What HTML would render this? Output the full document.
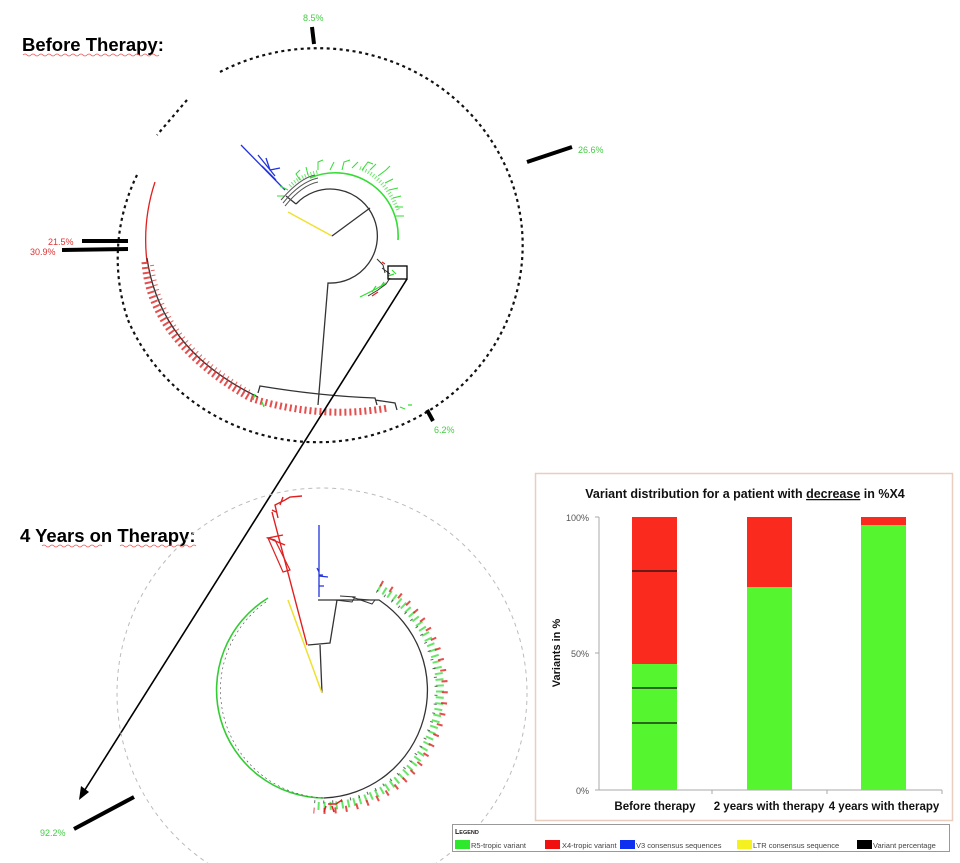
<!DOCTYPE html>
<html><head><meta charset="utf-8"><style>
html,body{margin:0;padding:0;background:#fff;}
svg{display:block;}
text{font-family:"Liberation Sans",Arial,sans-serif;}
</style></head><body>
<svg width="960" height="863" viewBox="0 0 960 863" xmlns="http://www.w3.org/2000/svg">
<text x="22" y="51" font-size="18.5" font-weight="bold" fill="#000">Before Therapy:</text>
<path d="M23 55 q2 -2 4 0 t4 0 t4 0 t4 0 t4 0 t4 0 t4 0 t4 0 t4 0 t4 0 t4 0 t4 0 t4 0 t4 0 t4 0 t4 0 t4 0 t4 0 t4 0 t4 0 t4 0 t4 0 t4 0 t4 0 t4 0 t4 0 t4 0 t4 0 t4 0 t4 0 t4 0 t4 0 t4 0 t4 0" stroke="#e55" stroke-width="0.8" fill="none"/>
<text x="20" y="542" font-size="18.5" font-weight="bold" fill="#000">4 Years on Therapy:</text>
<path d="M42 546 q2 -2 4 0 t4 0 t4 0 t4 0 t4 0 t4 0 t4 0 t4 0 t4 0 t4 0 t4 0 t4 0 t4 0 t4 0 t4 0 M120 546 q2 -2 4 0 t4 0 t4 0 t4 0 t4 0 t4 0 t4 0 t4 0 t4 0 t4 0 t4 0 t4 0 t4 0 t4 0 t4 0 t4 0 t4 0 t4 0 t4 0" stroke="#e55" stroke-width="0.8" fill="none"/>

<g fill="none">
<path d="M220 72 A205 197 0 1 1 128 320" stroke="#111" stroke-width="2.2" stroke-dasharray="3,3.5"/>
<path d="M187 100 L157 135" stroke="#111" stroke-width="2.2" stroke-dasharray="3,3.5"/>
<path d="M137 175 A205 197 0 0 0 128 320" stroke="#111" stroke-width="2.2" stroke-dasharray="3,3.5"/>
<path d="M312 27 L314 44" stroke="#000" stroke-width="4"/>
<path d="M527 162 L572 147" stroke="#000" stroke-width="4"/>
<path d="M82 241 L128 241" stroke="#000" stroke-width="4"/>
<path d="M62 250 L128 249" stroke="#000" stroke-width="4"/>
<path d="M427 410 L433 421" stroke="#000" stroke-width="4"/>
<path d="M288 212 L332 236" stroke="#f0e030" stroke-width="1.5"/>
<path d="M241 145 L285 190 M258 155 L275 176 M266 158 L270 170 L280 168 M262 166 L276 180" stroke="#2233dd" stroke-width="1.3"/>
<path d="M332 236 L370 208" stroke="#333" stroke-width="1.3"/>
<path d="M296 204 A47 47 0 1 1 328 283 L318 405" stroke="#333" stroke-width="1.3"/>
<path d="M296 204 L286 196" stroke="#333" stroke-width="1.3"/>
<path d="M281 200 Q300 178 315 175 M283 203 Q300 182 318 178 M285 206 Q302 185 318 182" stroke="#555" stroke-width="1"/>
<path d="M310 178 A63 63 0 0 1 398 240" stroke="#33dd33" stroke-width="1.6"/>
<path d="M300 180 l-4 -6 l4 -4 M308 175 l-2 -8 M318 170 l0 -8 l5 -2 M330 170 l4 -8 M342 170 l2 -8 l6 -2 M352 168 l6 -6 M362 170 l6 -8 l5 2 M370 170 l6 -6 M378 176 l8 -6 l4 -4 M385 183 l8 -4 M389 190 l9 -2 M393 198 l8 -2 M395 207 l8 0 M396 216 l8 0 M288 190 l-8 -4 M284 196 l-7 0" stroke="#33dd33" stroke-width="1"/>
<path d="M290 186 Q300 176 318 172" stroke="#33dd33" stroke-width="4" stroke-dasharray="1,2" opacity=".7"/>
<path d="M360 168 Q385 178 398 210" stroke="#33dd33" stroke-width="4" stroke-dasharray="1,2" opacity=".7"/>
<path d="M377 259 l6 6 l2 8 M382 268 l8 6 M390 278 l-4 6 l-8 6 l-10 6" stroke="#333" stroke-width="1"/>
<path d="M360 297 l16 -8 l10 -6 M372 292 l4 -6 M380 288 l4 -6 M388 276 l6 -2 M392 270 l4 4" stroke="#33dd33" stroke-width="1.2"/>
<path d="M372 296 l6 -4 M382 262 l3 2" stroke="#e02020" stroke-width="1.2"/>
<rect x="388" y="266" width="19" height="13" stroke="#000" stroke-width="1.3"/>
<path d="M155 182 A185 185 0 0 0 147 262" stroke="#e02020" stroke-width="1.3"/>
<path d="M147 258 Q160 350 258 397" stroke="#333" stroke-width="1.3"/>
<path d="M258 393 L260 386 Q320 396 375 398 L377 405 M375 400 L395 403 L397 410" stroke="#333" stroke-width="1.3"/>
<path d="M145 262 Q150 340 250 398 Q320 420 388 408" stroke="#e02020" stroke-width="7" stroke-dasharray="2,3" opacity=".8"/>
<path d="M152 265 Q160 340 250 392" stroke="#e02020" stroke-width="4" stroke-dasharray="1,4" opacity=".7"/>
<path d="M255 394 l-2 6 M262 402 l2 5 M400 407 l5 2 M408 405 l4 0" stroke="#33dd33" stroke-width="1.2"/>
</g>
<text x="303" y="21" font-size="9" fill="#4c4">8.5%</text>
<text x="578" y="153" font-size="9" fill="#4c4">26.6%</text>
<text x="48" y="245" font-size="9" fill="#d33">21.5%</text>
<text x="30" y="255" font-size="9" fill="#d33">30.9%</text>
<text x="434" y="433" font-size="9" fill="#4c4">6.2%</text>

<path d="M407 279 L81 796" stroke="#000" stroke-width="1.6" fill="none"/>
<path d="M79 800 L81 786 L89 792 Z" fill="#000"/>

<g fill="none">
<circle cx="322" cy="693" r="205" stroke="#bbb" stroke-width="1" stroke-dasharray="4,4"/>
<path d="M74 829 L134 797" stroke="#000" stroke-width="4"/>
<path d="M268 598 A108 108 0 0 0 324 798" stroke="#33cc33" stroke-width="1.6"/>
<path d="M266 602 A108 108 0 0 0 324 798" stroke="#444" stroke-width="0.6" stroke-dasharray="2,3"/>
<path d="M324 798 A108 108 0 0 0 379 600 L318 600" stroke="#333" stroke-width="1.3"/>
<path d="M378.4 587.6 A116 116 0 0 1 313.9 805.6" stroke="#33dd33" stroke-width="8" stroke-dasharray="2,4" opacity=".75"/>
<path d="M380.8 583.2 A121 121 0 0 1 313.5 810.5" stroke="#e02020" stroke-width="6" stroke-dasharray="2,9" opacity=".8"/>
<path d="M376.6 591.1 A112 112 0 0 1 314.2 801.6" stroke="#222" stroke-width="3" stroke-dasharray="1,8" opacity=".7"/>
<path d="M328 804 l8 0 l6 -4 M326 806 l-2 6 M332 806 l2 6" stroke="#e02020" stroke-width="1.5"/>
<path d="M322 693 L320 645 M308 645 L330 643 L337 600" stroke="#333" stroke-width="1.3"/>
<path d="M307 645 L272 512" stroke="#e02020" stroke-width="1.4"/>
<path d="M285 545 L268 538 L283 535 M278 518 L275 505 L285 500 L290 497 L302 496 M280 505 L283 497 M276 512 L272 510" stroke="#e02020" stroke-width="1.4"/>
<path d="M268 538 L275 540 L290 570 L283 572 Z" stroke="#e02020" stroke-width="1.2"/>
<path d="M319 597 L319 525 M319 572 L317 568 M319 575 L323 575 M319 576 L328 577 M319 586 L324 586" stroke="#2233dd" stroke-width="1.3"/>
<path d="M288 600 L322 693" stroke="#f0e030" stroke-width="1.5"/>
<path d="M335 600 L352 602 L355 597 L340 596 M352 597 L372 604 L375 600 M358 599 L370 600" stroke="#333" stroke-width="1"/>
</g>
<text x="40" y="836" font-size="9" fill="#4c4">92.2%</text>

<rect x="535.5" y="473.5" width="417" height="347" fill="#fff" stroke="#e9cdbf" stroke-width="1.5"/>
<text x="745" y="498" font-size="12.5" font-weight="bold" text-anchor="middle" fill="#111">Variant distribution for a patient with <tspan text-decoration="underline">decrease</tspan> in %X4</text>
<path d="M599 517 L599 790 L942 790" stroke="#aaa" fill="none"/>
<path d="M595 517 L599 517 M595 653 L599 653 M595 790 L599 790 M712 790 L712 794 M827 790 L827 794 M942 790 L942 794" stroke="#aaa"/>
<text x="589" y="521" font-size="9" fill="#555" text-anchor="end">100%</text>
<text x="589" y="657" font-size="9" fill="#555" text-anchor="end">50%</text>
<text x="589" y="794" font-size="9" fill="#555" text-anchor="end">0%</text>
<text transform="translate(560 653) rotate(-90)" font-size="11" font-weight="bold" text-anchor="middle" fill="#111">Variants in %</text>
<rect x="632" y="517" width="45" height="147" fill="#fb2a1f"/>
<rect x="632" y="664" width="45" height="126" fill="#55f52f"/>
<path d="M632 571 L677 571 M632 688 L677 688 M632 723 L677 723" stroke="#111" stroke-width="1.2"/>
<rect x="747" y="517" width="45" height="70" fill="#fb2a1f"/>
<rect x="747" y="587" width="45" height="203" fill="#55f52f"/>
<rect x="861" y="517" width="45" height="8" fill="#fb2a1f"/>
<rect x="861" y="525" width="45" height="265" fill="#55f52f"/>
<text x="655" y="810" font-size="11.5" font-weight="bold" text-anchor="middle" fill="#111">Before therapy</text>
<text x="769" y="810" font-size="11.5" font-weight="bold" text-anchor="middle" fill="#111">2 years with therapy</text>
<text x="884" y="810" font-size="11.5" font-weight="bold" text-anchor="middle" fill="#111">4 years with therapy</text>

<rect x="452.5" y="824.5" width="497" height="27" fill="#fff" stroke="#999"/>
<text x="455" y="834" font-size="7" font-weight="bold" fill="#222">L<tspan font-size="5.5">EGEND</tspan></text>
<rect x="455" y="840" width="15" height="9" fill="#2ee82e"/>
<text x="471" y="848" font-size="7.5" fill="#444">R5-tropic variant</text>
<rect x="545" y="840" width="15" height="9" fill="#f01010"/>
<text x="562" y="848" font-size="7.5" fill="#444">X4-tropic variant</text>
<rect x="620" y="840" width="15" height="9" fill="#1030f0"/>
<text x="636" y="848" font-size="7.5" fill="#444">V3 consensus sequences</text>
<rect x="737" y="840" width="15" height="9" fill="#f5f020"/>
<text x="753" y="848" font-size="7.5" fill="#444">LTR consensus sequence</text>
<rect x="857" y="840" width="15" height="9" fill="#000"/>
<text x="873" y="848" font-size="7.5" fill="#444">Variant percentage</text>
</svg>
</body></html>
